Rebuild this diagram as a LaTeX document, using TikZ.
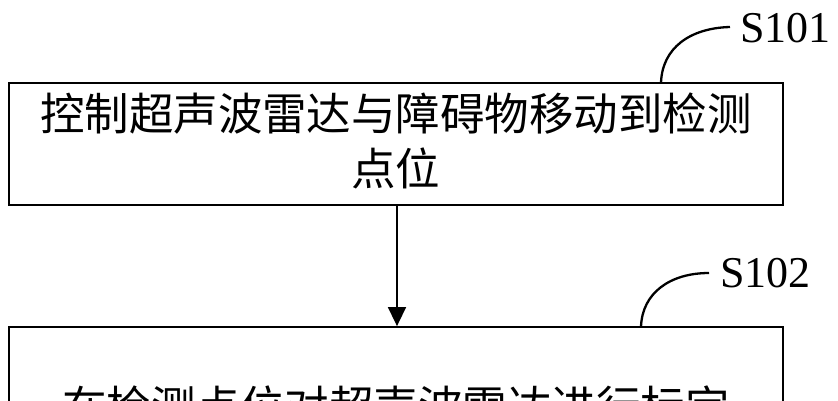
\documentclass[tikz,border=0pt]{standalone}
\usepackage{fontspec}
\setmainfont{Liberation Serif}
\newfontfamily\cjk{Noto Sans CJK SC}
\usetikzlibrary{arrows.meta}
\tikzset{
  stepbox/.style={draw=black, line width=1.8pt, rectangle, inner sep=0pt, fill=none},
  cjktext/.style={font=\cjk\fontsize{44.5}{55}\selectfont, align=center, inner sep=0pt, text=black},
  steplabel/.style={font=\fontsize{44}{48}\selectfont, inner sep=0pt, text=black},
  leader/.style={draw=black, line width=2.3pt},
  flow/.style={draw=black, line width=1.5pt, -{Triangle[width=18pt,length=19pt]}}
}
\begin{document}
\begin{tikzpicture}[x=1pt,y=-1pt]
\clip (0,0) rectangle (838,400);
\fill[white] (0,0) rectangle (838,400);
% boxes
\node[stepbox, minimum width=774pt, minimum height=122pt] (box1) at (396,144) {};
\node[stepbox, minimum width=774pt, minimum height=160pt] (box2) at (396,407) {};
% texts
\node[cjktext] (t1) at (396,140.5) {控制超声波雷达与障碍物移动到检测\\点位};
\node[cjktext] (t2) at (396,407) {在检测点位对超声波雷达进行标定};
% step labels
\node[steplabel, anchor=base west] (s101) at (740,42) {S101};
\node[steplabel, anchor=base west] (s102) at (720,287) {S102};
% leader curves
\coordinate (c1) at (661,83);
\coordinate (e1) at (730,27);
\coordinate (c2) at (641,327);
\coordinate (e2) at (709,273);
\draw[leader] (c1) .. controls (662,48) and (690,28) .. (e1);
\draw[leader] (c2) .. controls (642,293) and (670,273) .. (e2);
% flow arrow
\draw[flow] (box1.south -| 397,0) -- (box2.north -| 397,0);
\end{tikzpicture}
\end{document}
